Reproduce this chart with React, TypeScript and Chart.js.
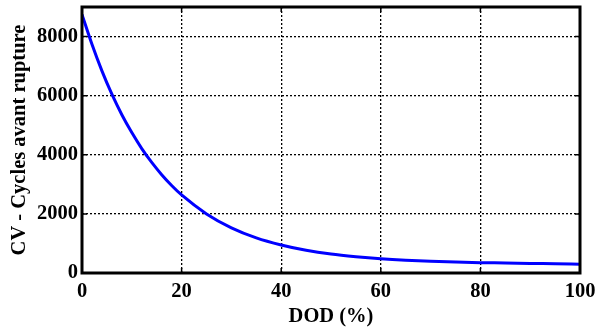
import React, { useEffect, useRef } from "react";
import { Chart, registerables } from "chart.js";

Chart.register(...registerables);

const dod = [0, 2, 4, 6, 8, 10, 12, 14, 16, 18, 20, 25, 30, 35, 40, 45, 50, 55, 60, 65, 70, 75, 80, 85, 90, 95, 100];
const cycles = [8750, 7740, 6840, 6050, 5355, 4750, 4210, 3740, 3325, 2960, 2640, 2000, 1530, 1190, 950, 770, 640, 550, 480, 430, 395, 370, 350, 340, 325, 315, 300];
const xTicks = [0, 20, 40, 60, 80, 100];
const yTicks = [0, 2000, 4000, 6000, 8000];
const xTitle = "DOD (%)";
const yTitle = "CV - Cycles avant rupture";

const FONT = "'Liberation Serif', 'Times New Roman', serif";
const FS = 20.5;

const boxPlugin = {
  id: "boxPlugin",
  afterDraw(chart: any) {
    const { ctx, chartArea: a, scales } = chart;
    ctx.save();
    ctx.strokeStyle = "#000";
    ctx.lineWidth = 1.5;
    const tl = 5;
    xTicks.forEach((v) => {
      const px = scales.x.getPixelForValue(v);
      ctx.beginPath();
      ctx.moveTo(px, a.bottom);
      ctx.lineTo(px, a.bottom - tl);
      ctx.moveTo(px, a.top);
      ctx.lineTo(px, a.top + tl);
      ctx.stroke();
    });
    yTicks.forEach((v) => {
      const py = scales.y.getPixelForValue(v);
      ctx.beginPath();
      ctx.moveTo(a.left, py);
      ctx.lineTo(a.left + tl, py);
      ctx.moveTo(a.right, py);
      ctx.lineTo(a.right - tl, py);
      ctx.stroke();
    });
    ctx.lineWidth = 3;
    ctx.strokeRect(a.left, a.top, a.right - a.left, a.bottom - a.top);
    ctx.restore();
  },
};

export default function App() {
  const ref = useRef<HTMLCanvasElement>(null);
  useEffect(() => {
    document.body.style.margin = "0";
    const chart = new Chart(ref.current!, {
      type: "line",
      data: {
        datasets: [
          {
            data: dod.map((x, i) => ({ x, y: cycles[i] })),
            borderColor: "#0000ff",
            borderWidth: 3,
            pointRadius: 0,
            cubicInterpolationMode: "monotone",
            fill: false,
          },
        ],
      },
      options: {
        animation: false,
        responsive: false,
        maintainAspectRatio: false,
        layout: { padding: { left: 0, top: 7, right: 16, bottom: 0 } },
        plugins: { legend: { display: false }, tooltip: { enabled: false } },
        scales: {
          x: {
            type: "linear",
            min: 0,
            max: 100,
            afterBuildTicks: (s: any) => {
              s.ticks = xTicks.map((v) => ({ value: v }));
            },
            afterFit: (s: any) => {
              s.height = 56;
              s.paddingLeft = 0;
              s.paddingRight = 0;
              s.paddingTop = 0;
              s.paddingBottom = 0;
            },
            grid: {
              color: "#000",
              lineWidth: 1.3,
              tickLength: 0,
            },
            border: { display: false, dash: [2, 2] } as any,
            ticks: {
              color: "#000",
              padding: 6,
              maxRotation: 0,
              callback: (v: any) => String(v),
              font: { family: FONT, size: FS, weight: "bold" },
            },
            title: {
              display: true,
              text: xTitle,
              color: "#000",
              padding: { top: 0, bottom: 0 },
              font: { family: FONT, size: FS, weight: "bold" },
            },
          },
          y: {
            type: "linear",
            min: 0,
            max: 9000,
            afterBuildTicks: (s: any) => {
              s.ticks = yTicks.map((v) => ({ value: v }));
            },
            afterFit: (s: any) => {
              s.width = 82;
              s.paddingLeft = 0;
              s.paddingRight = 0;
              s.paddingTop = 0;
              s.paddingBottom = 0;
            },
            grid: {
              color: "#000",
              lineWidth: 1.3,
              tickLength: 0,
            },
            border: { display: false, dash: [2, 2] } as any,
            ticks: {
              color: "#000",
              padding: 4,
              callback: (v: any) => String(v),
              font: { family: FONT, size: FS, weight: "bold" },
            },
            title: {
              display: true,
              text: yTitle,
              color: "#000",
              padding: { top: 7, bottom: 4 },
              font: { family: FONT, size: FS, weight: "bold" },
            },
          },
        },
      },
      plugins: [boxPlugin],
    } as any);
    return () => chart.destroy();
  }, []);
  return (
    <div style={{ position: "absolute", left: 0, top: 0, width: 596, height: 329, background: "#fff" }}>
      <canvas ref={ref} width={596} height={329} style={{ width: 596, height: 329 }} />
    </div>
  );
}
